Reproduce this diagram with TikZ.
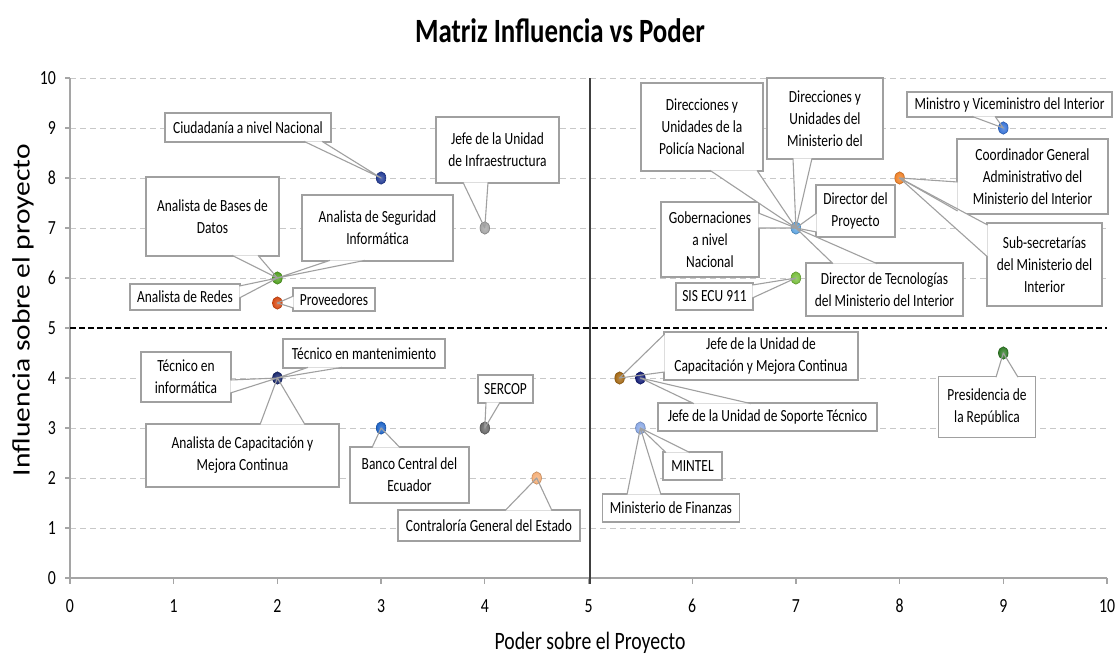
\documentclass[tikz,border=0pt]{standalone}
\usepackage{fontspec}
\setmainfont{Carlito}[FakeStretch=0.79]
\newfontfamily\plainfont{Carlito}
\usetikzlibrary{calc}
\definecolor{callgray}{RGB}{160,160,160}
\definecolor{gridgray}{RGB}{200,200,200}
\definecolor{axisgray}{RGB}{165,165,165}
\definecolor{ciudC}{RGB}{35,60,150}
\definecolor{infraC}{RGB}{165,165,165}
\definecolor{analC}{RGB}{80,160,30}
\definecolor{provC}{RGB}{215,75,20}
\definecolor{tecC}{RGB}{25,40,110}
\definecolor{bancoC}{RGB}{30,100,200}
\definecolor{sercopC}{RGB}{105,105,105}
\definecolor{contraC}{RGB}{245,175,120}
\definecolor{mvmC}{RGB}{55,115,215}
\definecolor{coordC}{RGB}{240,130,40}
\definecolor{dirC}{RGB}{95,165,225}
\definecolor{sisC}{RGB}{120,190,60}
\definecolor{jcapC}{RGB}{165,105,20}
\definecolor{jsopC}{RGB}{20,30,120}
\definecolor{mintC}{RGB}{140,170,230}
\definecolor{presC}{RGB}{50,125,40}
% wedge base coordinates on a box edge (1.2px inside the box)
\newcommand{\cwB}[3]{%
  \coordinate (#1-a) at ($(#2,0 |- #1.south)+(0,-1.2)$);
  \coordinate (#1-b) at ($(#3,0 |- #1.south)+(0,-1.2)$);}
\newcommand{\cwT}[3]{%
  \coordinate (#1-a) at ($(#2,0 |- #1.north)+(0,1.2)$);
  \coordinate (#1-b) at ($(#3,0 |- #1.north)+(0,1.2)$);}
\newcommand{\cwL}[3]{%
  \coordinate (#1-a) at ($(#1.west |- 0,#2)+(1.2,0)$);
  \coordinate (#1-b) at ($(#1.west |- 0,#3)+(1.2,0)$);}
\newcommand{\cwR}[3]{%
  \coordinate (#1-a) at ($(#1.east |- 0,#2)+(-1.2,0)$);
  \coordinate (#1-b) at ($(#1.east |- 0,#3)+(-1.2,0)$);}
\begin{document}
\begin{tikzpicture}[x=1pt,y=-1pt,
  callbox/.style={draw=callgray, line width=1.1pt, fill=white, inner sep=2pt,
    align=center, font=\fontsize{17}{22}\selectfont},
  callline/.style={draw=callgray, line width=1.1pt, line join=round},
  gridline/.style={draw=gridgray, line width=1pt, dash pattern=on 6pt off 4pt},
  axisline/.style={draw=axisgray, line width=1.3pt},
  ticklab/.style={font=\fontsize{20}{24}\selectfont, inner sep=1pt},
  marker/.style={inner color=#1!75!white, outer color=#1, draw=#1!80!black, line width=0.6pt}]
\useasboundingbox (0,0) rectangle (1120,654);
\fill[white] (0,0) rectangle (1120,654);

% title and axis titles
\node (title) at (560,31) {\fontsize{34}{40}\selectfont\bfseries Matriz Influencia vs Poder};
\node (xlab) at (590,643) {\fontsize{25}{30}\selectfont Poder sobre el Proyecto};
\node[rotate=90] (ylab) at (23,310) {\plainfont\fontsize{29.5}{34}\selectfont\scalebox{1}[0.85]{Influencia sobre el proyecto}};

% grid
\foreach \yy in {78,128,178,228,278,378,428,478,528}
  \draw[gridline] (70,\yy) -- (1107,\yy);
% axes
\draw[axisline] (70,78) -- (70,578);
\draw[axisline] (70,578) -- (1107,578);
\foreach \i in {0,...,10} {
  \draw[axisline] (65,578-50*\i) -- (70,578-50*\i);
  \draw[axisline] (70+103.7*\i,578) -- (70+103.7*\i,584);
  \node[ticklab, anchor=east] (yl\i) at (57,578-50*\i) {\i};
  \node[ticklab] (xl\i) at (70+103.7*\i,606) {\i};
}
% quadrant lines
\draw[black, line width=1.6pt, dash pattern=on 6pt off 3pt] (70,328) -- (1107,328);
\draw[black!75, line width=1.1pt] (590,78) -- (590,584);

% data points
\coordinate (p1) at (381.1,178);
\coordinate (p2) at (484.8,228);
\coordinate (p3) at (277.4,278);
\coordinate (p4) at (277.4,303);
\coordinate (p5) at (277.4,378);
\coordinate (p6) at (381.1,428);
\coordinate (p7) at (484.8,428);
\coordinate (p8) at (536.7,478);
\coordinate (p9) at (1003.3,128);
\coordinate (p10) at (899.6,178);
\coordinate (p11) at (795.9,228);
\coordinate (p12) at (795.9,278);
\coordinate (p13) at (619.6,378);
\coordinate (p14) at (640.4,378);
\coordinate (p15) at (640.4,428);
\coordinate (p16) at (1003.3,353);

% callout boxes
\node[callbox, minimum width=166, minimum height=29] (ciud) at (248,127.5) {Ciudadanía a nivel Nacional};
\node[callbox, minimum width=123, minimum height=66] (infra) at (497.5,150) {Jefe de la Unidad\\de Infraestructura};
\node[callbox, minimum width=133, minimum height=79] (bases) at (212.5,216.5) {Analista de Bases de\\Datos};
\node[callbox, minimum width=151, minimum height=66] (segur) at (377.5,228) {Analista de Seguridad\\Informática};
\node[callbox, minimum width=110, minimum height=26] (redes) at (185,297) {Analista de Redes};
\node[callbox, minimum width=82, minimum height=23] (prov) at (334,299.5) {Proveedores};
\node[callbox, minimum width=122, minimum height=88] (dpol) at (702,127) {Direcciones y\\Unidades de la\\Policía Nacional};
\node[callbox, minimum width=116, minimum height=81] (dmin) at (825,118.5) {Direcciones y\\Unidades del\\Ministerio del};
\node[callbox, minimum width=79, minimum height=52] (dproy) at (855.5,211) {Director del\\Proyecto};
\node[callbox, minimum width=98, minimum height=75] (gob) at (710,239.5) {Gobernaciones\\a nivel\\Nacional};
\node[callbox, minimum width=157, minimum height=53] (dtec) at (884.5,289.5) {Director de Tecnologías\\del Ministerio del Interior};
\node[callbox, minimum width=77, minimum height=27] (sis) at (714.5,296.5) {SIS ECU 911};
\node[callbox, minimum width=205, minimum height=25] (mvm) at (1009.5,104.5) {Ministro y Viceministro del Interior};
\node[callbox, minimum width=151, minimum height=75] (coord) at (1032.5,176.5) {Coordinador General\\Administrativo del\\Ministerio del Interior};
\node[callbox, minimum width=115, minimum height=83] (subs) at (1044.5,264.5) {Sub-secretarías\\del Ministerio del\\Interior};
\node[callbox, minimum width=90, minimum height=50] (tecinf) at (186,377) {Técnico en\\informática};
\node[callbox, minimum width=162, minimum height=29] (tecman) at (364,353.5) {Técnico en mantenimiento};
\node[callbox, minimum width=193, minimum height=63] (acap) at (242.5,455.5) {Analista de Capacitación y\\Mejora Continua};
\node[callbox, minimum width=119, minimum height=56] (banco) at (409.5,475) {Banco Central del\\Ecuador};
\node[callbox, minimum width=55, minimum height=28] (sercop) at (505.5,389) {SERCOP};
\node[callbox, minimum width=182, minimum height=31] (contra) at (489,525.5) {Contraloría General del Estado};
\node[callbox, minimum width=194, minimum height=48] (jcap) at (761,356) {Jefe de la Unidad de\\Capacitación y Mejora Continua};
\node[callbox, minimum width=219, minimum height=28] (jsop) at (767.5,417) {Jefe de la Unidad de Soporte Técnico};
\node[callbox, minimum width=59, minimum height=28] (mintel) at (692.5,466) {MINTEL};
\node[callbox, minimum width=137, minimum height=28] (minfin) at (671,508) {Ministerio de Finanzas};
\node[callbox, minimum width=97, minimum height=61] (pres) at (987,407) {Presidencia de\\la República};

% wedge bases
\cwB{ciud}{304}{322}
\cwB{infra}{463}{488}
\cwB{bases}{232}{258}
\cwB{segur}{330}{365}
\cwR{redes}{286}{298}
\cwL{prov}{296}{308}
\cwB{dpol}{710}{757}
\cwB{dmin}{793}{812}
\cwL{dproy}{213}{232}
\cwR{gob}{213}{228}
\cwT{dtec}{833}{877}
\cwR{sis}{285}{298}
\cwB{mvm}{972}{995}
\cwL{coord}{182}{211}
\cwL{subs}{225}{257}
\cwR{tecinf}{380}{393}
\cwB{tecman}{308}{342}
\cwT{acap}{260}{305}
\cwT{banco}{372}{400}
\cwB{sercop}{486}{500}
\cwT{contra}{505}{552}
\cwL{jcap}{334}{372}
\cwT{jsop}{694}{751}
\cwT{mintel}{666}{690}
\cwT{minfin}{627}{661}
\cwT{pres}{996}{1018}

\def\wedgelist{ciud/p1, infra/p2, bases/p3, segur/p3, redes/p3, prov/p4,
  dpol/p11, dmin/p11, dproy/p11, gob/p11, dtec/p11, sis/p12, mvm/p9,
  coord/p10, subs/p10, tecinf/p5, tecman/p5, acap/p5, banco/p6, sercop/p7,
  contra/p8, jcap/p13, jsop/p14, mintel/p15, minfin/p15, pres/p16}

\foreach \n/\p in \wedgelist
  \fill[white] (\n-a) -- (\p) -- (\n-b) -- cycle;

% markers
\foreach \p/\c in {p1/ciudC, p2/infraC, p3/analC, p4/provC, p5/tecC, p6/bancoC,
  p7/sercopC, p8/contraC, p9/mvmC, p10/coordC, p11/dirC, p12/sisC, p13/jcapC,
  p14/jsopC, p15/mintC, p16/presC}
  \shade[marker=\c] (\p) ellipse [x radius=4.8, y radius=6.2];

\foreach \n/\p in \wedgelist
  \draw[callline] (\n-a) -- (\p) -- (\n-b);
\end{tikzpicture}
\end{document}
